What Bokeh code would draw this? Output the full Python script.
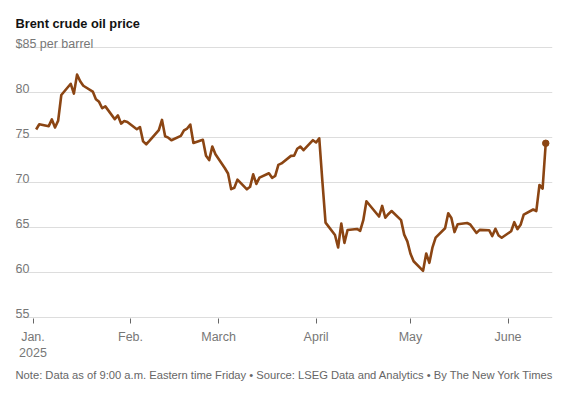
from datetime import datetime, timedelta
import pandas as pd
from bokeh.plotting import figure
from bokeh.models import Range1d, FixedTicker, ColumnDataSource, Title
from bokeh.core.properties import value
from bokeh.embed import file_html
from bokeh.resources import INLINE

# ---------------- data ----------------
dates = [
    "2025-01-02", "2025-01-03", "2025-01-06", "2025-01-07", "2025-01-08", "2025-01-09", "2025-01-10",
    "2025-01-13", "2025-01-14", "2025-01-15", "2025-01-16", "2025-01-17", "2025-01-20", "2025-01-21",
    "2025-01-22", "2025-01-23", "2025-01-24", "2025-01-27", "2025-01-28", "2025-01-29", "2025-01-30",
    "2025-01-31", "2025-02-03", "2025-02-04", "2025-02-05", "2025-02-06", "2025-02-07", "2025-02-10",
    "2025-02-11", "2025-02-12", "2025-02-13", "2025-02-14", "2025-02-17", "2025-02-18", "2025-02-19",
    "2025-02-20", "2025-02-21", "2025-02-24", "2025-02-25", "2025-02-26", "2025-02-27", "2025-02-28",
    "2025-03-03", "2025-03-04", "2025-03-05", "2025-03-06", "2025-03-07", "2025-03-10", "2025-03-11",
    "2025-03-12", "2025-03-13", "2025-03-14", "2025-03-17", "2025-03-18", "2025-03-19", "2025-03-20",
    "2025-03-21", "2025-03-24", "2025-03-25", "2025-03-26", "2025-03-27", "2025-03-28", "2025-03-31",
    "2025-04-01", "2025-04-02", "2025-04-03", "2025-04-04", "2025-04-07", "2025-04-08", "2025-04-09",
    "2025-04-10", "2025-04-11", "2025-04-14", "2025-04-15", "2025-04-16", "2025-04-17", "2025-04-21",
    "2025-04-22", "2025-04-23", "2025-04-24", "2025-04-25", "2025-04-28", "2025-04-29", "2025-04-30",
    "2025-05-01", "2025-05-02", "2025-05-05", "2025-05-06", "2025-05-07", "2025-05-08", "2025-05-09",
    "2025-05-12", "2025-05-13", "2025-05-14", "2025-05-15", "2025-05-16", "2025-05-19", "2025-05-20",
    "2025-05-21", "2025-05-22", "2025-05-23", "2025-05-26", "2025-05-27", "2025-05-28", "2025-05-29",
    "2025-05-30", "2025-06-02", "2025-06-03", "2025-06-04", "2025-06-05", "2025-06-06", "2025-06-09",
    "2025-06-10", "2025-06-11", "2025-06-12", "2025-06-13",
]
prices = [
    75.93, 76.51, 76.30, 77.05, 76.16, 76.92, 79.76,
    81.01, 79.92, 82.03, 81.29, 80.79, 80.15, 79.29,
    79.00, 78.29, 78.50, 77.08, 77.49, 76.58, 76.87,
    76.76, 75.96, 76.20, 74.61, 74.29, 74.66, 75.87,
    77.00, 75.18, 75.02, 74.74, 75.22, 75.84, 76.04,
    76.48, 74.43, 74.78, 73.02, 72.53, 74.04, 73.18,
    71.62, 71.04, 69.30, 69.46, 70.36, 69.28, 69.56,
    70.95, 69.88, 70.58, 71.07, 70.56, 70.78, 72.00,
    72.16, 73.00, 73.02, 73.79, 74.03, 73.63, 74.74,
    74.49, 74.95, 70.14, 65.58, 64.21, 62.82, 65.48,
    63.33, 64.76, 64.88, 64.67, 65.85, 67.96, 66.26,
    67.44, 66.12, 66.55, 66.87, 65.86, 64.25, 63.50,
    62.13, 61.29, 60.23, 62.15, 61.12, 62.84, 63.91,
    64.96, 66.63, 66.09, 64.53, 65.41, 65.54, 65.38,
    64.91, 64.44, 64.78, 64.74, 64.09, 64.90, 64.15,
    63.90, 64.63, 65.63, 64.86, 65.34, 66.47, 67.04,
    66.87, 69.77, 69.36, 74.40,
]

y_tick_values = [55, 60, 65, 70, 75, 80, 85]
y_tick_labels = ["55", "60", "65", "70", "75", "80", "$85 per barrel"]

month_tick_dates = ["2025-01-01", "2025-02-01", "2025-03-01", "2025-04-01", "2025-05-01", "2025-06-01"]
month_tick_labels = ["Jan.\n2025", "Feb.", "March", "April", "May", "June"]

title_text = "Brent crude oil price"
footer_text = ("Note: Data as of 9:00 a.m. Eastern time Friday \u2022 Source: LSEG Data and Analytics "
               "\u2022 By The New York Times")

# ---------------- styling ----------------
LINE = "#8B4513"
GRID = "#dddddd"
LABEL = "#777777"
FONT = "Liberation Sans"

W, H = 567, 398
BL, BR, BT, BB = 15, 15, 8, 80
frame_w = W - BL - BR
frame_h = H - BT - BB

px_per_day = 3.1457
x_start = datetime(2025, 1, 1) - timedelta(days=17.5 / px_per_day)
x_end = x_start + timedelta(days=frame_w / px_per_day)

y_start = 54.93
px_per_unit = 9.0
y_end = y_start + frame_h / px_per_unit

df = pd.DataFrame({"date": pd.to_datetime(dates), "price": prices})
src = ColumnDataSource(df)

p = figure(width=W, height=H, x_axis_type="datetime", y_axis_location=None,
           x_range=Range1d(x_start, x_end), y_range=Range1d(y_start, y_end),
           output_backend="svg", toolbar_location=None,
           min_border_left=BL, min_border_right=BR, min_border_top=BT, min_border_bottom=BB)
p.outline_line_color = None
p.background_fill_color = "white"
p.border_fill_color = "white"

p.xgrid.visible = False
p.ygrid.ticker = FixedTicker(ticks=y_tick_values)
p.ygrid.grid_line_color = GRID
p.ygrid.grid_line_width = 1

# x axis
tick_ms = [pd.Timestamp(d).value // 10**6 for d in month_tick_dates]
p.xaxis.ticker = FixedTicker(ticks=tick_ms)
p.xaxis.major_label_overrides = {t: lab for t, lab in zip(tick_ms, month_tick_labels)}
p.xaxis.axis_line_color = None
p.xaxis.major_tick_line_color = "#666666"
p.xaxis.major_tick_in = 0
p.xaxis.major_tick_out = 5
p.xaxis.minor_tick_line_color = None
p.xaxis.major_label_text_font = FONT
p.xaxis.major_label_text_font_size = "12.5px"
p.xaxis.major_label_text_color = LABEL
p.xaxis.major_label_standoff = 6

# y labels above grid lines
p.text(x=[x_start] * len(y_tick_values), y=y_tick_values, text=y_tick_labels,
       text_font=value(FONT), text_font_size="12.5px", text_color=LABEL,
       text_align="left", text_baseline="alphabetic", y_offset=-4)

# title (baseline ~22.7px from page top)
title_y = y_end - (22.7 - BT) / px_per_unit
p.text(x=[x_start], y=[title_y], text=[title_text], text_font=value(FONT),
       text_font_size="12.8px", text_font_style="bold", text_color="#121212",
       text_align="left", text_baseline="alphabetic")

# line
p.line(x="date", y="price", source=src, line_color=LINE, line_width=2.6, line_join="round")
p.scatter(x=[df["date"].iloc[-1]], y=[df["price"].iloc[-1]], size=6.5, color=LINE)

# footer
p.add_layout(Title(text=footer_text, align="left", text_font=FONT, text_font_size="11.2px",
                   text_font_style="normal", text_color="#666666", standoff=6), "below")

open("out.html", "w").write(file_html(p, INLINE))
